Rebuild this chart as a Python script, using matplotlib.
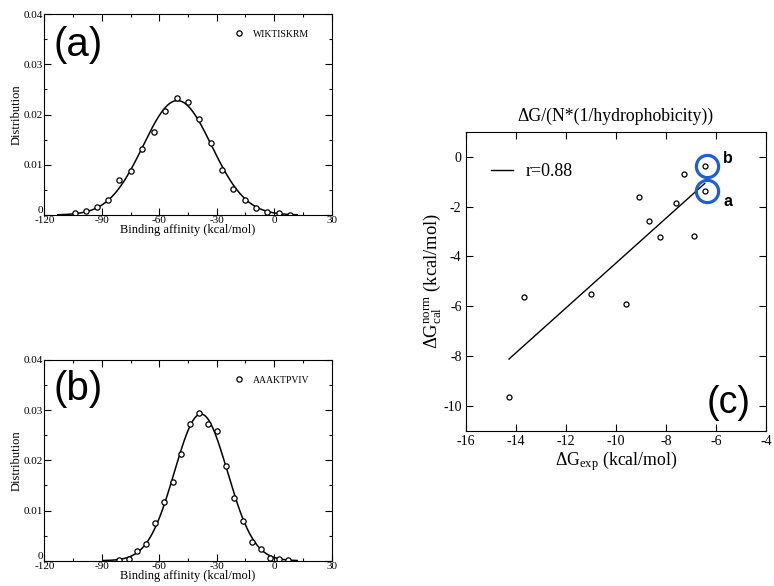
import numpy as np
import matplotlib
matplotlib.use("Agg")
import matplotlib.pyplot as plt
from matplotlib.ticker import MultipleLocator

plt.rcParams['font.family'] = ['Liberation Serif', 'DejaVu Serif']
plt.rcParams['mathtext.fontset'] = 'custom'
plt.rcParams['mathtext.rm'] = 'Liberation Serif'
plt.rcParams['mathtext.it'] = 'Liberation Serif:italic'
plt.rcParams['axes.unicode_minus'] = False

# panel (a): WIKTISKRM binding affinity distribution
a_x = [-104.2, -98.4, -92.5, -86.6, -80.9, -74.9, -68.8, -62.9, -57.0, -50.9,
       -45.2, -39.1, -33.2, -27.3, -21.3, -15.4, -9.5, -3.6, 2.3, 8.2]
a_y = [0.0003, 0.0007, 0.0015, 0.0030, 0.0070, 0.0088, 0.0132, 0.0165, 0.0207, 0.0232,
       0.0225, 0.0191, 0.0144, 0.0089, 0.0052, 0.0030, 0.0013, 0.0006, 0.0003, 0.0001]

# panel (b): AAAKTPVIV binding affinity distribution
b_x = [-80.8, -76.0, -71.5, -66.8, -62.1, -57.5, -53.0, -48.5, -44.0, -39.1,
       -34.4, -29.9, -25.2, -20.8, -16.1, -11.4, -6.7, -2.0, 2.5, 7.0]
b_y = [0.0001, 0.0003, 0.0020, 0.0033, 0.0075, 0.0117, 0.0157, 0.0212, 0.0272, 0.0294,
       0.0272, 0.0258, 0.0188, 0.0125, 0.0079, 0.0037, 0.0024, 0.0005, 0.0003, 0.0001]

dist_ticks = [0, 0.01, 0.02, 0.03, 0.04]
dist_labels = ['0', '0.01', '0.02', '0.03', '0.04']

# panel (c): normalised calculated vs experimental free energy
c_exp = [-14.27, -13.68, -10.99, -9.61, -9.08, -8.66, -8.24, -7.61, -7.29, -6.87, -6.45, -6.45]
c_cal = [-9.63, -5.61, -5.52, -5.89, -1.63, -2.57, -3.24, -1.84, -0.69, -3.19, -0.37, -1.36]
# highlighted peptides: b = AAAKTPVIV, a = WIKTISKRM
hl_exp = [-6.45, -6.45]
hl_cal = [-0.37, -1.36]
hl_names = ['b', 'a']


def gauss_fit(x, y, lo, hi):
    # weighted parabola fit on log(y) -> gaussian curve
    x = np.asarray(x)
    y = np.asarray(y)
    p = np.polyfit(x, np.log(y), 2, w=y)
    xs = np.linspace(lo, hi, 300)
    return xs, np.exp(np.polyval(p, xs))


def dist_panel(ax, x, y, name, lo, hi):
    xs, ys = gauss_fit(x, y, lo, hi)
    ax.plot(xs, ys, color='black', lw=1.1)
    ax.plot(x, y, 'o', mfc='white', mec='black', ms=3.8, mew=0.9, label=name)
    ax.set_xlim(-120, 30)
    ax.set_ylim(0, 0.04)
    ax.xaxis.set_major_locator(MultipleLocator(30))
    ax.xaxis.set_minor_locator(MultipleLocator(15))
    ax.yaxis.set_minor_locator(MultipleLocator(0.005))
    ax.set_yticks(dist_ticks)
    ax.set_yticklabels(dist_labels)
    ax.tick_params(which='both', direction='in', top=True, right=True, labelsize=8, pad=1)
    ax.tick_params(which='major', length=5, width=0.8)
    ax.tick_params(which='minor', length=2.5, width=0.8)
    # the zero label sits a little above the corner, as in the original
    ax.get_yticklabels()[0].set_va('bottom')
    ax.set_xlabel('Binding affinity (kcal/mol)', fontsize=9, labelpad=-1)
    ax.set_ylabel('Distribution', fontsize=9, labelpad=1)
    for s in ax.spines.values():
        s.set_linewidth(0.8)
    ax.legend(loc='center left', bbox_to_anchor=(0.653, 0.90), frameon=False,
              fontsize=7, handlelength=1.4, handletextpad=0.8,
              borderpad=0, borderaxespad=0)


fig = plt.figure(figsize=(7.74, 5.86), dpi=100)
ax_a = fig.add_axes([0.0573, 0.6331, 0.3712, 0.3430])
ax_b = fig.add_axes([0.0573, 0.0432, 0.3712, 0.3425])
ax_c = fig.add_axes([0.6017, 0.2645, 0.3880, 0.5108])

dist_panel(ax_a, a_x, a_y, 'WIKTISKRM', -113, 12)
dist_panel(ax_b, b_x, b_y, 'AAAKTPVIV', -89, 12)

# panel (c)
slope, icept = np.polyfit(c_exp, c_cal, 1)
line_x = np.array([min(c_exp), max(c_exp)])
ax_c.plot(line_x, slope * line_x + icept, color='black', lw=1.0, label='r=0.88')
ax_c.plot(c_exp, c_cal, 'o', mfc='white', mec='black', ms=3.6, mew=0.9)
ax_c.plot([x + 0.08 for x in hl_exp], hl_cal, 'o', mfc='none', mec='#1f5fd6',
          ms=16, mew=2.3)
for x, y, n, dy in zip(hl_exp, hl_cal, hl_names, [0.3, -0.45]):
    ax_c.text(x + 0.92, y + dy, n, family=['Liberation Sans', 'DejaVu Sans'],
              fontweight='bold', fontsize=11.5, ha='center', va='center')
ax_c.set_xlim(-16, -4)
ax_c.set_ylim(-11, 1)
ax_c.xaxis.set_major_locator(MultipleLocator(2))
ax_c.yaxis.set_major_locator(MultipleLocator(2))
ax_c.tick_params(direction='in', top=True, right=True, labelsize=10, length=5, width=0.8, pad=3)
for s in ax_c.spines.values():
    s.set_linewidth(0.8)
ax_c.set_title('ΔG/(N*(1/hydrophobicity))', fontsize=12.8, pad=8)
ax_c.set_xlabel('ΔG$_{\\mathrm{exp}}$ (kcal/mol)', fontsize=12.8, labelpad=1)
ax_c.set_ylabel('ΔG$_{\\mathrm{cal}}^{\\mathrm{norm}}$ (kcal/mol)', fontsize=13.3, labelpad=0)
ax_c.legend(loc='center left', bbox_to_anchor=(0.084, 0.866), frameon=False,
            fontsize=13, handlelength=1.2, handletextpad=0.75,
            borderpad=0, borderaxespad=0)

# panel letters
sans = ['Liberation Sans', 'DejaVu Sans']
fig.text(0.1008, 0.9240, '(a)', family=sans, fontsize=29, ha='center', va='center')
fig.text(0.1008, 0.3360, '(b)', family=sans, fontsize=29, ha='center', va='center')
fig.text(0.9410, 0.3115, '(c)', family=sans, fontsize=27, ha='center', va='center')

fig.savefig('out.png', dpi=100)
